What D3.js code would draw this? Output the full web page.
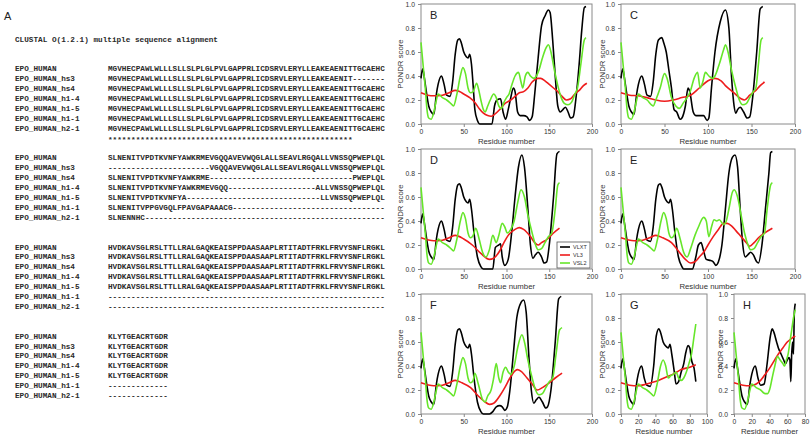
<!DOCTYPE html>
<html><head><meta charset="utf-8">
<script src="https://cdn.jsdelivr.net/npm/d3@7"></script>
<style>body{margin:0;background:#fff;}svg{display:block;}</style>
</head><body>
<script>
// ---------- Alignment text ----------
const alignTitle = "CLUSTAL O(1.2.1) multiple sequence alignment";
const seqNames = ["EPO_HUMAN","EPO_HUMAN_hs3","EPO_HUMAN_hs4","EPO_HUMAN_h1-4","EPO_HUMAN_h1-5","EPO_HUMAN_h1-1","EPO_HUMAN_h2-1"];
const block1 = [
 "MGVHECPAWLWLLLSLLSLPLGLPVLGAPPRLICDSRVLERYLLEAKEAENITTGCAEHC",
 "MGVHECPAWLWLLLSLLSLPLGLPVLGAPPRLICDSRVLERYLLEAKEAENIT-------",
 "MGVHECPAWLWLLLSLLSLPLGLPVLGAPPRLICDSRVLERYLLEAKEAENITTGCAEHC",
 "MGVHECPAWLWLLLSLLSLPLGLPVLGAPPRLICDSRVLERYLLEAKEAENITTGCAEHC",
 "MGVHECPAWLWLLLSLLSLPLGLPVLGAPPRLICDSRVLERYLLEAKEAENITTGCAEHC",
 "MGVHECPAWLWLLLSLLSLPLGLPVLGAPPRLICDSRVLERYLLEAKEAENITTGCAEHC",
 "MGVHECPAWLWLLLSLLSLPLGLPVLGAPPRLICDSRVLERYLLEAKEAENITTGCAEHC"];
const block1Cons = "*****************************************************";
const block2 = [
 "SLNENITVPDTKVNFYAWKRMEVGQQAVEVWQGLALLSEAVLRGQALLVNSSQPWEPLQL",
 "----------------------VGQQAVEVWQGLALLSEAVLRGQALLVNSSQPWEPLQL",
 "SLNENITVPDTKVNFYAWKRME-------------------------------PWEPLQL",
 "SLNENITVPDTKVNFYAWKRMEVGQQ-------------------ALLVNSSQPWEPLQL",
 "SLNENITVPDTKVNFYA-----------------------------LLVNSSQPWEPLQL",
 "SLNENITVPPGVGQLFPAVGAPAAACG---------------------------------",
 "SLNENNHC----------------------------------------------------"];
const block3 = [
 "HVDKAVSGLRSLTTLLRALGAQKEAISPPDAASAAPLRTITADTFRKLFRVYSNFLRGKL",
 "HVDKAVSGLRSLTTLLRALGAQKEAISPPDAASAAPLRTITADTFRKLFRVYSNFLRGKL",
 "HVDKAVSGLRSLTTLLRALGAQKEAISPPDAASAAPLRTITADTFRKLFRVYSNFLRGKL",
 "HVDKAVSGLRSLTTLLRALGAQKEAISPPDAASAAPLRTITADTFRKLFRVYSNFLRGKL",
 "HVDKAVSGLRSLTTLLRALGAQKEAISPPDAASAAPLRTITADTFRKLFRVYSNFLRGKL",
 "------------------------------------------------------------",
 "------------------------------------------------------------"];
const block4 = ["KLYTGEACRTGDR","KLYTGEACRTGDR","KLYTGEACRTGDR","KLYTGEACRTGDR","KLYTGEACRTGDR","-------------","-------------"];

// ---------- PONDR data: [residue, score] ----------
const B_VLXT = [[0,0.38],[2,0.46],[4,0.38],[6,0.28],[9,0.15],[12,0.1],[15,0.08],[18,0.25],[20,0.33],[24,0.4],[27,0.33],[30,0.24],[34,0.23],[37,0.35],[40,0.58],[43,0.7],[45,0.71],[47,0.68],[50,0.6],[53,0.56],[55,0.55],[57,0.58],[59,0.5],[61,0.32],[63,0.12],[66,0.03],[69,0.0],[75,0.0],[83,0.0],[86,0.15],[89,0.2],[93,0.21],[96,0.1],[99,0.04],[102,0.12],[105,0.22],[108,0.3],[110,0.27],[113,0.1],[116,0.07],[120,0.07],[124,0.06],[127,0.03],[130,0.06],[133,0.25],[137,0.55],[141,0.82],[145,0.9],[149,0.95],[151,0.93],[154,0.7],[157,0.4],[160,0.15],[163,0.1],[166,0.12],[169,0.14],[172,0.1],[175,0.05],[178,0.06],[181,0.2],[185,0.5],[188,0.78],[191,0.97],[193,0.98]];
const B_VL3 = [[0,0.26],[8,0.24],[15,0.235],[25,0.24],[33,0.26],[40,0.28],[45,0.27],[50,0.25],[57,0.22],[63,0.18],[68,0.13],[73,0.09],[78,0.07],[82,0.065],[86,0.08],[92,0.12],[98,0.17],[105,0.2],[110,0.23],[115,0.26],[120,0.27],[125,0.3],[130,0.35],[137,0.38],[140,0.38],[145,0.36],[150,0.33],[155,0.3],[160,0.27],[165,0.23],[170,0.2],[175,0.21],[180,0.25],[185,0.28],[190,0.32],[194,0.34]];
const B_VSL2 = [[0,0.68],[3,0.45],[5,0.3],[7,0.12],[9,0.05],[12,0.04],[15,0.1],[18,0.2],[20,0.25],[25,0.22],[30,0.2],[35,0.17],[38,0.15],[42,0.25],[46,0.4],[49,0.47],[52,0.42],[55,0.3],[58,0.26],[61,0.27],[65,0.34],[67,0.3],[70,0.2],[73,0.12],[75,0.1],[78,0.15],[81,0.2],[85,0.25],[88,0.22],[91,0.15],[94,0.13],[97,0.18],[100,0.22],[103,0.25],[106,0.32],[110,0.4],[114,0.43],[117,0.35],[119,0.3],[122,0.4],[125,0.43],[128,0.4],[132,0.38],[135,0.4],[138,0.45],[142,0.55],[146,0.63],[149,0.66],[152,0.6],[156,0.45],[160,0.32],[164,0.22],[168,0.17],[172,0.16],[176,0.18],[180,0.25],[183,0.3],[187,0.5],[191,0.7],[193,0.72]];

const C_VLXT = [[0,0.38],[2,0.46],[4,0.38],[6,0.28],[9,0.15],[12,0.1],[15,0.08],[18,0.25],[20,0.33],[24,0.4],[27,0.33],[30,0.24],[34,0.23],[37,0.35],[40,0.58],[43,0.7],[47,0.72],[49,0.68],[52,0.6],[55,0.45],[58,0.3],[61,0.12],[64,0.1],[68,0.04],[70,0.05],[74,0.15],[77,0.3],[79,0.27],[83,0.1],[86,0.07],[95,0.07],[99,0.03],[101,0.05],[104,0.3],[108,0.6],[114,0.85],[120,0.95],[124,0.8],[127,0.4],[130,0.15],[132,0.09],[134,0.12],[137,0.14],[141,0.1],[145,0.05],[148,0.06],[151,0.2],[156,0.6],[160,0.96],[163,0.98]];
const C_VL3 = [[0,0.26],[10,0.24],[20,0.235],[30,0.22],[40,0.2],[50,0.19],[60,0.2],[70,0.22],[80,0.24],[90,0.3],[100,0.36],[108,0.38],[115,0.36],[120,0.32],[130,0.26],[138,0.21],[142,0.2],[148,0.24],[155,0.28],[160,0.32],[165,0.35]];
const C_VSL2 = [[0,0.68],[3,0.45],[5,0.3],[7,0.12],[9,0.05],[12,0.04],[15,0.1],[18,0.2],[20,0.25],[25,0.22],[30,0.2],[35,0.16],[37,0.15],[40,0.2],[45,0.3],[50,0.42],[53,0.38],[58,0.22],[63,0.15],[67,0.13],[72,0.18],[76,0.22],[80,0.28],[84,0.38],[88,0.43],[91,0.3],[94,0.35],[97,0.43],[101,0.4],[105,0.38],[108,0.4],[113,0.5],[118,0.62],[120,0.66],[123,0.6],[127,0.45],[132,0.3],[136,0.2],[140,0.16],[144,0.17],[148,0.22],[152,0.27],[155,0.3],[158,0.5],[161,0.7],[163,0.72]];

const D_VLXT = [[0,0.38],[2,0.46],[4,0.38],[6,0.28],[9,0.15],[12,0.1],[15,0.08],[18,0.25],[20,0.33],[24,0.4],[27,0.33],[30,0.24],[34,0.23],[37,0.35],[40,0.58],[43,0.7],[45,0.71],[47,0.68],[50,0.6],[53,0.56],[55,0.55],[57,0.58],[59,0.5],[62,0.3],[66,0.1],[70,0.02],[73,0.0],[84,0.0],[87,0.18],[91,0.2],[93,0.21],[95,0.1],[98,0.03],[102,0.08],[106,0.3],[110,0.6],[114,0.85],[118,0.95],[121,0.85],[125,0.5],[128,0.2],[131,0.09],[134,0.12],[137,0.14],[141,0.1],[144,0.05],[147,0.06],[150,0.2],[155,0.6],[159,0.96],[162,0.98]];
const D_VL3 = [[0,0.26],[15,0.235],[25,0.24],[33,0.26],[40,0.28],[50,0.25],[60,0.2],[70,0.13],[80,0.08],[85,0.09],[92,0.15],[97,0.22],[102,0.28],[110,0.33],[115,0.345],[120,0.33],[128,0.27],[133,0.22],[137,0.2],[141,0.22],[148,0.25],[155,0.3],[162,0.34]];
const D_VSL2 = [[0,0.68],[3,0.45],[5,0.3],[7,0.12],[9,0.05],[12,0.04],[15,0.1],[18,0.2],[20,0.25],[25,0.22],[30,0.2],[35,0.17],[38,0.15],[42,0.25],[46,0.4],[49,0.47],[52,0.42],[55,0.3],[58,0.26],[61,0.28],[64,0.34],[68,0.25],[72,0.14],[76,0.1],[80,0.16],[84,0.28],[88,0.22],[91,0.28],[95,0.38],[98,0.35],[101,0.3],[105,0.33],[109,0.4],[113,0.55],[117,0.66],[121,0.6],[125,0.45],[130,0.3],[134,0.2],[137,0.16],[141,0.17],[145,0.22],[149,0.27],[153,0.3],[157,0.5],[160,0.7],[162,0.72]];

const E_VLXT = [[0,0.38],[2,0.46],[4,0.38],[6,0.28],[9,0.15],[12,0.1],[15,0.08],[18,0.25],[20,0.33],[24,0.4],[27,0.33],[30,0.24],[34,0.23],[37,0.35],[40,0.58],[43,0.7],[45,0.71],[47,0.68],[50,0.6],[53,0.56],[55,0.55],[57,0.58],[59,0.5],[62,0.3],[66,0.1],[70,0.02],[72,0.0],[82,0.0],[86,0.1],[89,0.2],[92,0.22],[95,0.15],[98,0.08],[103,0.07],[106,0.06],[109,0.03],[112,0.06],[116,0.2],[120,0.5],[124,0.8],[128,0.93],[131,0.95],[134,0.85],[137,0.5],[140,0.2],[143,0.1],[146,0.12],[149,0.14],[152,0.12],[156,0.06],[158,0.05],[162,0.2],[166,0.5],[170,0.8],[172,0.97],[174,0.98]];
const E_VL3 = [[0,0.26],[15,0.235],[25,0.24],[33,0.26],[40,0.28],[48,0.26],[58,0.22],[66,0.15],[74,0.08],[80,0.05],[85,0.06],[90,0.1],[96,0.15],[100,0.2],[106,0.27],[112,0.33],[118,0.38],[122,0.38],[127,0.36],[132,0.32],[138,0.27],[144,0.22],[148,0.19],[153,0.22],[158,0.26],[165,0.3],[174,0.34]];
const E_VSL2 = [[0,0.68],[3,0.45],[5,0.3],[7,0.12],[9,0.05],[12,0.04],[15,0.1],[18,0.2],[20,0.25],[25,0.22],[30,0.2],[35,0.17],[38,0.15],[42,0.25],[46,0.4],[49,0.47],[52,0.42],[55,0.3],[58,0.26],[61,0.28],[64,0.34],[68,0.25],[72,0.14],[76,0.1],[80,0.17],[85,0.28],[89,0.35],[95,0.43],[98,0.4],[101,0.27],[104,0.35],[107,0.41],[110,0.4],[113,0.41],[118,0.37],[121,0.4],[124,0.5],[128,0.64],[130,0.66],[134,0.6],[138,0.45],[142,0.3],[146,0.2],[149,0.16],[153,0.17],[157,0.22],[161,0.27],[165,0.3],[168,0.5],[172,0.7],[174,0.72]];

const F_VLXT = [[0,0.38],[2,0.46],[4,0.38],[6,0.28],[9,0.15],[12,0.1],[15,0.08],[18,0.25],[20,0.33],[24,0.4],[27,0.33],[30,0.24],[34,0.23],[37,0.35],[40,0.58],[43,0.7],[45,0.71],[47,0.68],[50,0.6],[53,0.56],[55,0.55],[57,0.58],[59,0.5],[62,0.3],[66,0.1],[70,0.02],[73,0.0],[80,0.0],[84,0.02],[88,0.06],[92,0.07],[95,0.06],[98,0.03],[101,0.06],[104,0.2],[108,0.5],[112,0.8],[117,0.93],[120,0.95],[123,0.85],[126,0.5],[129,0.2],[132,0.09],[135,0.12],[138,0.14],[142,0.1],[146,0.05],[148,0.06],[152,0.2],[157,0.6],[161,0.96],[164,0.98]];
const F_VL3 = [[0,0.26],[15,0.235],[25,0.24],[33,0.26],[40,0.28],[48,0.26],[58,0.22],[67,0.15],[75,0.1],[80,0.08],[85,0.09],[92,0.15],[98,0.22],[104,0.3],[110,0.36],[113,0.37],[118,0.35],[124,0.3],[130,0.25],[136,0.2],[142,0.22],[150,0.26],[157,0.3],[165,0.34]];
const F_VSL2 = [[0,0.68],[3,0.45],[5,0.3],[7,0.12],[9,0.05],[12,0.04],[15,0.1],[18,0.2],[20,0.25],[25,0.22],[30,0.2],[35,0.17],[38,0.15],[42,0.25],[46,0.4],[49,0.47],[52,0.42],[55,0.3],[58,0.26],[61,0.28],[63,0.34],[67,0.25],[72,0.12],[75,0.1],[78,0.15],[82,0.2],[85,0.3],[88,0.42],[91,0.3],[93,0.26],[96,0.35],[99,0.39],[102,0.35],[105,0.33],[109,0.4],[113,0.55],[118,0.66],[121,0.6],[125,0.45],[130,0.3],[134,0.2],[138,0.16],[142,0.17],[146,0.22],[150,0.27],[154,0.3],[158,0.5],[162,0.7],[165,0.72]];

const G_VLXT = [[0,0.38],[2,0.46],[4,0.38],[6,0.28],[9,0.15],[12,0.1],[15,0.08],[18,0.25],[20,0.33],[24,0.4],[27,0.3],[30,0.24],[34,0.23],[38,0.4],[41,0.65],[44,0.71],[46,0.68],[49,0.6],[53,0.56],[55,0.55],[57,0.58],[59,0.5],[62,0.35],[64,0.25],[67,0.27],[70,0.35],[73,0.42],[75,0.5],[78,0.57],[80,0.55],[82,0.45],[85,0.38],[87,0.27]];
const G_VL3 = [[0,0.26],[10,0.24],[20,0.235],[30,0.25],[40,0.27],[50,0.3],[60,0.33],[65,0.35],[70,0.37],[80,0.39],[87,0.41]];
const G_VSL2 = [[0,0.68],[3,0.45],[5,0.3],[7,0.12],[9,0.05],[12,0.04],[15,0.1],[18,0.2],[20,0.25],[25,0.22],[30,0.2],[35,0.17],[38,0.15],[42,0.25],[46,0.4],[49,0.45],[52,0.4],[55,0.3],[58,0.32],[61,0.33],[64,0.35],[67,0.3],[70,0.28],[73,0.3],[76,0.35],[79,0.42],[82,0.5],[85,0.65],[87,0.75]];

const H_VLXT = [[0,0.38],[2,0.46],[4,0.38],[6,0.28],[9,0.15],[12,0.1],[15,0.08],[18,0.25],[20,0.33],[24,0.4],[27,0.3],[30,0.24],[34,0.25],[37,0.4],[41,0.65],[43,0.71],[45,0.68],[48,0.6],[50,0.55],[53,0.5],[56,0.45],[58,0.42],[60,0.45],[62,0.47],[63,0.45],[64,0.27],[65,0.5],[66,0.6],[67,0.5],[68,0.85],[69,0.92]];
const H_VL3 = [[0,0.26],[10,0.24],[18,0.235],[25,0.25],[30,0.28],[35,0.33],[40,0.38],[45,0.44],[50,0.5],[55,0.55],[60,0.6],[65,0.63],[69,0.65]];
const H_VSL2 = [[0,0.68],[3,0.45],[5,0.3],[7,0.12],[9,0.05],[12,0.04],[15,0.1],[18,0.2],[20,0.25],[25,0.22],[30,0.2],[35,0.17],[38,0.17],[40,0.2],[43,0.3],[46,0.4],[49,0.48],[52,0.45],[55,0.42],[57,0.4],[59,0.45],[61,0.5],[63,0.6],[65,0.7],[67,0.8],[69,0.87]];

const seriesNames = ["VLXT","VL3","VSL2"];
const seriesColors = ["#000000","#ee1c1c","#66e62a"];
const yTicks = [0,0.2,0.4,0.6,0.8,1.0];

// ---------- Drawing ----------
const svg = d3.select("body").append("svg").attr("width",810).attr("height",438);
svg.append("rect").attr("width",810).attr("height",438).attr("fill","#fff");

// Panel A text
svg.append("text").attr("x",4).attr("y",20).text("A")
  .attr("font-family","Liberation Sans, Arial, sans-serif").attr("font-size",11).attr("fill","#222");
const mono = "Liberation Mono, Courier New, monospace";
const txt = svg.append("g").attr("font-family",mono).attr("font-size",7.7)
  .attr("font-weight","bold").attr("fill","#2a2a2a");
txt.append("text").attr("x",15).attr("y",41.6).text(alignTitle);
const blocks = [block1,block2,block3,block4];
const rowH = 9.9, firstRow = 68.7, blockStep = 9*rowH;
blocks.forEach((blk,bi)=>{
  blk.forEach((s,ri)=>{
    const y = firstRow + bi*blockStep + ri*rowH + 2.6;
    txt.append("text").attr("x",15).attr("y",y).text(seqNames[ri]);
    txt.append("text").attr("x",108).attr("y",y).text(s);
  });
});
txt.append("text").attr("x",108).attr("y",firstRow+7*rowH+4).text(block1Cons);

// PONDR panels
const panels = [
 {id:"B", x0:421, x1:592, y0:4,   y1:124, xmax:200, step:50, ylab:400, data:[B_VLXT,B_VL3,B_VSL2]},
 {id:"C", x0:621, x1:795, y0:4,   y1:124, xmax:200, step:50, ylab:602, data:[C_VLXT,C_VL3,C_VSL2]},
 {id:"D", x0:421, x1:592, y0:149, y1:269, xmax:200, step:50, ylab:400, data:[D_VLXT,D_VL3,D_VSL2], legend:true},
 {id:"E", x0:621, x1:795, y0:149, y1:269, xmax:200, step:50, ylab:602, data:[E_VLXT,E_VL3,E_VSL2]},
 {id:"F", x0:421, x1:592, y0:294, y1:414, xmax:200, step:50, ylab:400, data:[F_VLXT,F_VL3,F_VSL2]},
 {id:"G", x0:621, x1:707, y0:294, y1:414, xmax:100, step:20, ylab:602, data:[G_VLXT,G_VL3,G_VSL2]},
 {id:"H", x0:734, x1:805, y0:294, y1:414, xmax:80,  step:20, ylab:720, data:[H_VLXT,H_VL3,H_VSL2]},
];
const sans = "Liberation Sans, Arial, sans-serif";
panels.forEach(p=>{
  const x = d3.scaleLinear().domain([0,p.xmax]).range([p.x0,p.x1]);
  const y = d3.scaleLinear().domain([0,1]).range([p.y1,p.y0]);
  const g = svg.append("g");
  const xa = g.append("g").attr("transform",`translate(0,${p.y1})`)
    .call(d3.axisBottom(x).tickValues(d3.range(0,p.xmax+0.1,p.step)).tickSize(3).tickPadding(2).tickFormat(d3.format("d")));
  const ya = g.append("g").attr("transform",`translate(${p.x0},0)`)
    .call(d3.axisLeft(y).tickValues(yTicks).tickSize(3).tickPadding(3).tickFormat(d3.format(".1f")));
  [xa,ya].forEach(a=>{
    a.select(".domain").remove();
    a.selectAll("line").attr("stroke","#888");
    a.selectAll("text").attr("font-family",sans).attr("font-size",6.8).attr("fill","#333");
  });
  g.append("rect").attr("x",p.x0).attr("y",p.y0).attr("width",p.x1-p.x0).attr("height",p.y1-p.y0)
    .attr("fill","none").attr("stroke","#8a8a8a").attr("stroke-width",1);
  const line = d3.line().x(d=>x(d[0])).y(d=>y(d[1])).curve(d3.curveMonotoneX);
  p.data.forEach((ser,i)=>{
    g.append("path").datum(ser).attr("d",line).attr("fill","none")
      .attr("stroke",seriesColors[i]).attr("stroke-width",1.6).attr("stroke-linejoin","round");
  });
  g.append("text").attr("x",p.x0+9).attr("y",p.y0+15).text(p.id)
    .attr("font-family",sans).attr("font-size",11).attr("fill","#222");
  g.append("text").attr("x",(p.x0+p.x1)/2).attr("y",p.y1+20).attr("text-anchor","middle")
    .attr("font-family",sans).attr("font-size",7.8).attr("fill","#333").text("Residue number");
  g.append("text").attr("transform",`translate(${p.ylab},${(p.y0+p.y1)/2}) rotate(-90)`)
    .attr("text-anchor","middle").attr("dy","0.35em")
    .attr("font-family",sans).attr("font-size",7.8).attr("fill","#333").text("PONDR score");
  if(p.legend){
    const lx = p.x1-35, ly = p.y1-27;
    const lg = g.append("g");
    lg.append("rect").attr("x",lx).attr("y",ly).attr("width",33).attr("height",26)
      .attr("fill","#fff").attr("stroke","#555").attr("stroke-width",0.8);
    seriesNames.forEach((n,i)=>{
      const yy = ly+5+i*8;
      lg.append("line").attr("x1",lx+3).attr("x2",lx+13).attr("y1",yy).attr("y2",yy)
        .attr("stroke",seriesColors[i]).attr("stroke-width",1.6);
      lg.append("text").attr("x",lx+16).attr("y",yy).attr("dy","0.35em").text(n)
        .attr("font-family",sans).attr("font-size",5.5).attr("fill","#333");
    });
  }
});
</script>
</body></html>
